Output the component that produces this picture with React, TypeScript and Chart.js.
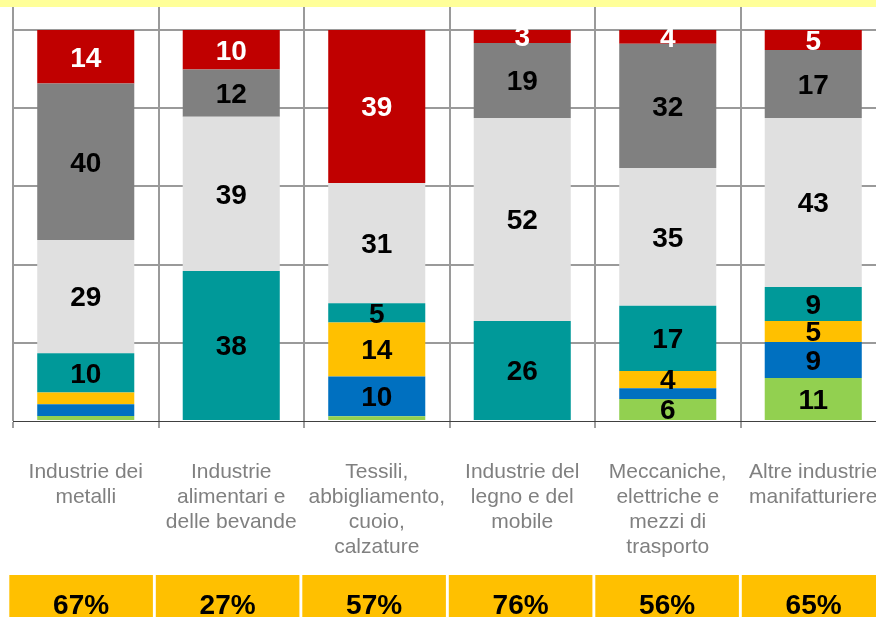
import React, { useEffect, useRef } from "react";
import { Chart, registerables } from "chart.js";

Chart.register(...registerables);

// ---- data ----
const categories: string[][] = [
  ["Industrie dei", "metalli"],
  ["Industrie", "alimentari e", "delle bevande"],
  ["Tessili,", "abbigliamento,", "cuoio,", "calzature"],
  ["Industrie del", "legno e del", "mobile"],
  ["Meccaniche,", "elettriche e", "mezzi di", "trasporto"],
  ["Altre industrie", "manifatturiere"],
];

const greenValues = [1.3, 0, 1.2, 0, 5.6, 11];
const blueValues = [3, 0, 10.2, 0, 2.8, 9.2];
const yellowValues = [3, 0, 13.8, 0, 4.4, 5.4];
const tealValues = [10, 38.4, 4.9, 25.6, 16.7, 8.7];
const lightGrayValues = [29, 39.4, 30.8, 51.9, 35.2, 43.2];
const grayValues = [40, 12.1, 0, 19.2, 31.8, 17.4];
const redValues = [13.7, 10.1, 39.1, 3.3, 3.5, 5.1];

const bottomPercent = ["67%", "27%", "57%", "76%", "56%", "65%"];
const yTicks = [0, 20, 40, 60, 80, 100];

const FONT = '"Liberation Sans", Arial, sans-serif';

const seriesList = [
  { values: greenValues, color: "#92D050", text: "#000000" },
  { values: blueValues, color: "#0070C0", text: "#000000" },
  { values: yellowValues, color: "#FFC000", text: "#000000" },
  { values: tealValues, color: "#009999", text: "#000000" },
  { values: lightGrayValues, color: "#E0E0E0", text: "#000000" },
  { values: grayValues, color: "#808080", text: "#000000" },
  { values: redValues, color: "#C00000", text: "#FFFFFF" },
];

const overlayPlugin = {
  id: "overlay",
  beforeDraw(chart: any) {
    const { ctx } = chart;
    ctx.save();
    ctx.fillStyle = "#FFFF99";
    ctx.fillRect(0, 0, chart.width, 7);
    ctx.restore();
  },
  afterDatasetsDraw(chart: any) {
    const { ctx } = chart;
    ctx.save();
    ctx.font = `bold 28px ${FONT}`;
    ctx.textAlign = "center";
    ctx.textBaseline = "middle";
    chart.data.datasets.forEach((ds: any, di: number) => {
      const meta = chart.getDatasetMeta(di);
      meta.data.forEach((el: any, i: number) => {
        const v = ds.data[i] as number;
        if (!(v >= 3.2)) return;
        const { x, y, base } = el.getProps(["x", "y", "base"], true);
        ctx.fillStyle = seriesList[di].text;
        ctx.fillText(String(Math.round(v)), x, (y + base) / 2 + 2);
      });
    });
    ctx.restore();
  },
  afterDraw(chart: any) {
    const { ctx } = chart;
    ctx.save();
    const top = 575;
    const left0 = 9.3;
    const pitch = 146.5;
    const w = 143.6;
    ctx.font = `bold 28px ${FONT}`;
    ctx.textAlign = "center";
    ctx.textBaseline = "alphabetic";
    bottomPercent.forEach((t, i) => {
      const l = left0 + i * pitch;
      ctx.fillStyle = "#FFC000";
      ctx.fillRect(l, top, w, chart.height - top);
      ctx.fillStyle = "#000000";
      ctx.fillText(t, l + w / 2, 614);
    });
    ctx.restore();
  },
};

export default function App() {
  const ref = useRef<HTMLCanvasElement>(null);

  useEffect(() => {
    document.body.style.margin = "0";
    document.body.style.overflow = "hidden";
    const chart = new Chart(ref.current as HTMLCanvasElement, {
      type: "bar",
      data: {
        labels: categories,
        datasets: seriesList.map((s) => ({
          data: s.values,
          backgroundColor: s.color,
          borderWidth: 0,
          categoryPercentage: 0.667,
          barPercentage: 1,
        })),
      },
      options: {
        animation: false,
        responsive: true,
        maintainAspectRatio: false,
        layout: { padding: { left: 13, right: 4, top: 7, bottom: 0 } },
        plugins: {
          legend: { display: false },
          tooltip: { enabled: false },
        },
        scales: {
          x: {
            stacked: true,
            grid: {
              display: true,
              offset: true,
              color: "#9a9a9a",
              lineWidth: 2,
              drawTicks: true,
              tickLength: 7,
              tickColor: "#404040",
              tickWidth: 1,
            },
            border: { display: true, color: "#404040", width: 1 },
            ticks: {
              color: "#808080",
              font: { family: FONT, size: 21, lineHeight: 1.19 },
              padding: 32,
              minRotation: 0,
              maxRotation: 0,
              autoSkip: false,
            },
            afterFit: (s: any) => {
              s.height = 196;
              s.paddingLeft = 0;
              s.paddingRight = 0;
            },
          },
          y: {
            stacked: true,
            min: 0,
            max: 105.9,
            afterBuildTicks: (s: any) => {
              s.ticks = yTicks.map((v) => ({ value: v }));
            },
            grid: {
              color: (c: any) =>
                c.tick && c.tick.value === 0 ? "rgba(0,0,0,0)" : "#9a9a9a",
              lineWidth: 2,
              drawTicks: false,
            },
            border: { display: false },
            ticks: { display: false },
            afterFit: (s: any) => {
              s.width = 0;
            },
          },
        },
      },
      plugins: [overlayPlugin],
    } as any);
    return () => chart.destroy();
  }, []);

  return (
    <div style={{ width: 876, height: 617, overflow: "hidden", position: "relative" }}>
      <div style={{ width: 890, height: 617, position: "relative" }}>
        <canvas ref={ref} />
      </div>
    </div>
  );
}
